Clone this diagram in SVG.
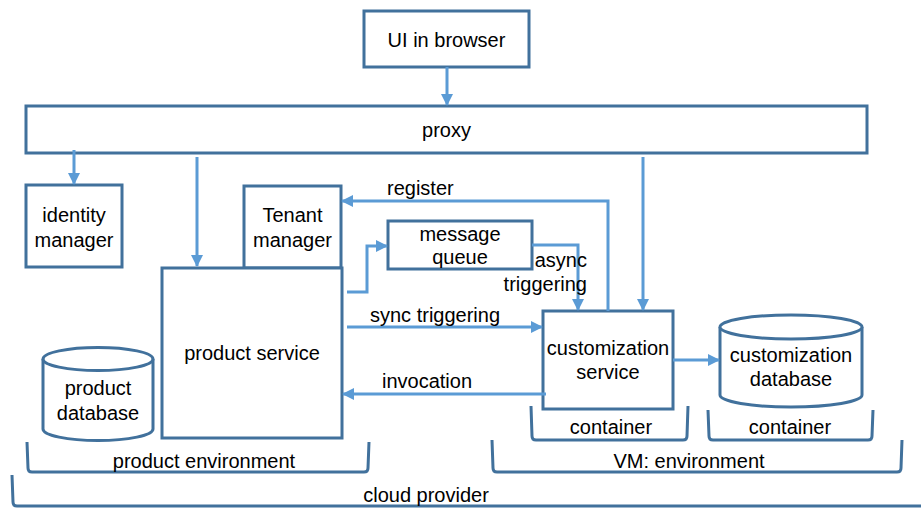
<svg xmlns="http://www.w3.org/2000/svg" width="921" height="509" viewBox="0 0 921 509">
<style>
.box{fill:#fff;stroke:#41719C;stroke-width:3}
.br{fill:none;stroke:#41719C;stroke-width:3}
.c{fill:none;stroke:#5B9BD5;stroke-width:3}
text{font-family:"Liberation Sans",Arial,sans-serif;font-size:20px;fill:#000}
.m{text-anchor:middle}
</style>
<defs>
<marker id="ah" markerUnits="userSpaceOnUse" markerWidth="12" markerHeight="12" refX="11" refY="6" orient="auto">
<path d="M0,0 L12,6 L0,12 Z" fill="#5B9BD5"/>
</marker>
</defs>
<rect width="921" height="509" fill="#fff"/>
<g id="ui"><rect class="box" x="364" y="11" width="165" height="56"/><text class="m" x="446.5" y="47">UI in browser</text></g>
<g id="proxy"><rect class="box" x="26" y="106" width="841" height="47"/><text class="m" x="446.5" y="137">proxy</text></g>
<g id="identity"><rect class="box" x="26" y="185" width="96" height="82"/><text class="m" x="74" y="222">identity</text><text class="m" x="74" y="247">manager</text></g>
<g id="tenant"><rect class="box" x="244" y="186" width="97" height="82"/><text class="m" x="292.5" y="222">Tenant</text><text class="m" x="292.5" y="247">manager</text></g>
<g id="product-service"><rect class="box" x="162" y="268" width="180" height="170"/><text class="m" x="252" y="360">product service</text></g>
<g id="message-queue"><rect class="box" x="388" y="221" width="144" height="48"/><text class="m" x="460" y="241">message</text><text class="m" x="460" y="264">queue</text></g>
<g id="customization-service"><rect class="box" x="543" y="311" width="130" height="98"/><text class="m" x="608" y="355">customization</text><text class="m" x="608" y="379">service</text></g>
<g id="product-database"><path class="box" d="M43,359 L43,429 A55,11.5 0 0 0 153,429 L153,359"/><ellipse class="box" cx="98" cy="359" rx="55" ry="11.5"/><text class="m" x="98" y="395">product</text><text class="m" x="98" y="420">database</text></g>
<g id="customization-database"><path class="box" d="M720,327 L720,395 A71,12 0 0 0 862,395 L862,327"/><ellipse class="box" cx="791" cy="327" rx="71" ry="12"/><text class="m" x="791" y="362">customization</text><text class="m" x="791" y="386">database</text></g>
<g id="product-environment"><path class="br" d="M27,442 L28,468 Q28,472 32,472 L364,472 Q368,472 368,468 L369,442"/><text class="m" x="204" y="468">product environment</text></g>
<g id="container1"><path class="br" d="M531,406 L532,436 Q532,440 536,440 L683,440 Q687,440 687,436 L688,406"/><text class="m" x="611" y="434">container</text></g>
<g id="container2"><path class="br" d="M708,410 L709,436 Q709,440 713,440 L868,440 Q872,440 872,436 L873,410"/><text class="m" x="790" y="434">container</text></g>
<g id="vm-environment"><path class="br" d="M492,440 L493,468 Q493,472 497,472 L897,472 Q901,472 901,468 L902,440"/><text class="m" x="689" y="468">VM: environment</text></g>
<g id="cloud-provider"><path class="br" d="M12,475 L13,502 Q13,506 17,506 L921,506"/><text class="m" x="426" y="502">cloud provider</text></g>
<g id="connectors">
<path class="c" d="M447,67 L447,105" marker-end="url(#ah)"/>
<path class="c" d="M74,150 L74,184" marker-end="url(#ah)"/>
<path class="c" d="M197,157 L197,266" marker-end="url(#ah)"/>
<path class="c" d="M643,157 L643,310" marker-end="url(#ah)"/>
<path class="c" d="M608,311 L608,201 L342,201" marker-end="url(#ah)"/>
<path class="c" d="M347,292 L367,292 L367,246 L387,246" marker-end="url(#ah)"/>
<path class="c" d="M532,245 L578,245 L578,310" marker-end="url(#ah)"/>
<path class="c" d="M347,327 L542,327" marker-end="url(#ah)"/>
<path class="c" d="M546,394 L343,394" marker-end="url(#ah)"/>
<path class="c" d="M673,360 L719,360" marker-end="url(#ah)"/>
<text x="387" y="195">register</text>
<text x="587" y="267" text-anchor="end">async</text>
<text x="587" y="291" text-anchor="end">triggering</text>
<text x="370" y="322">sync triggering</text>
<text x="382" y="388">invocation</text>
</g>
</svg>
